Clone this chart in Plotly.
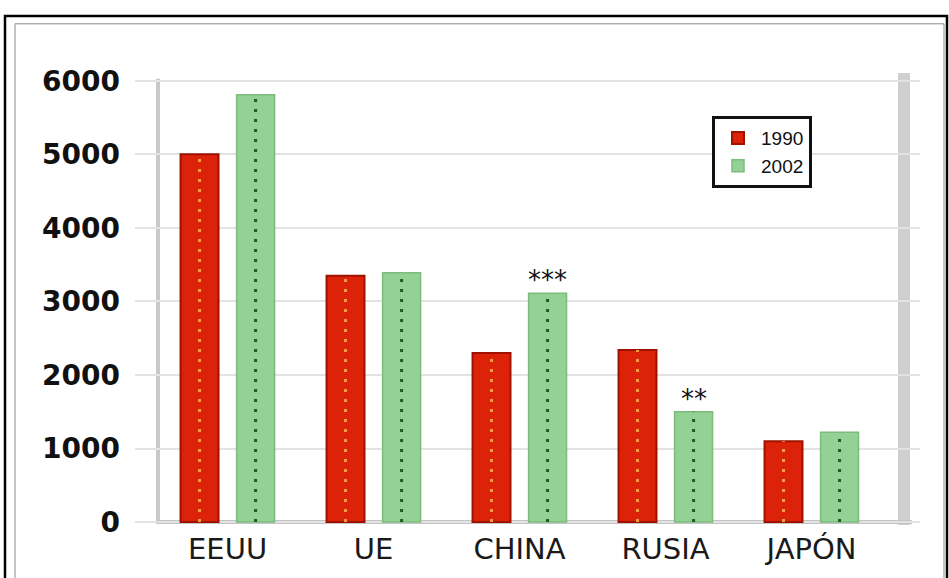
import plotly.graph_objects as go

categories = ["EEUU", "UE", "CHINA", "RUSIA", "JAPÓN"]
values_1990 = [5000, 3350, 2300, 2340, 1100]
values_2002 = [5810, 3390, 3110, 1500, 1220]
notes_2002 = ["", "", "***", "**", ""]
series_names = ["1990", "2002"]
y_ticks = [0, 1000, 2000, 3000, 4000, 5000, 6000]

# layout in pixels (949 x 578)
W, H = 949, 578
L, R, T, B = 135, 920, 70, 535
Y0 = -67
Y1 = 6147
X0, X1 = -0.634, 4.743

def px(xp):
    return (xp - L) / (R - L)

def py(yp):
    return (B - yp) / (B - T)

OFF = 0.192
BW = 0.26
xs = list(range(len(categories)))

fig = go.Figure()
fig.add_trace(go.Bar(
    x=[i - OFF for i in xs], y=values_1990, width=BW, name=series_names[0],
    marker=dict(color="#dc2208", line=dict(color="#a01200", width=2)),
))
fig.add_trace(go.Bar(
    x=[i + OFF for i in xs], y=values_2002, width=BW, name=series_names[1],
    marker=dict(color="#94d194", line=dict(color="#7cbc7c", width=1.5)),
))

# dotted center lines on bars (derived from data)
def center_line(vals, sign):
    lx, ly = [], []
    for i, v in zip(xs, vals):
        lx += [i + sign * OFF, i + sign * OFF, None]
        ly += [0, v, None]
    return lx, ly

lx, ly = center_line(values_1990, -1)
fig.add_trace(go.Scatter(x=lx, y=ly, mode="lines", showlegend=False, hoverinfo="skip",
                         line=dict(color="#f79a45", width=3, dash="3px,7px")))
lx, ly = center_line(values_2002, 1)
fig.add_trace(go.Scatter(x=lx, y=ly, mode="lines", showlegend=False, hoverinfo="skip",
                         line=dict(color="#1d5e1d", width=3, dash="3px,7px")))

# asterisk notes
for i, (v, n) in enumerate(zip(values_2002, notes_2002)):
    if n:
        fig.add_annotation(x=i + OFF, y=v, text=n, showarrow=False, yanchor="bottom",
                           yshift=-4, font=dict(family="DejaVu Sans", size=26, color="#111"))

shapes = []
# outer black frame and inner gray frame
shapes.append(dict(type="rect", xref="paper", yref="paper",
                   x0=px(5), x1=px(947), y0=py(600), y1=py(15),
                   line=dict(color="#000", width=2.5), fillcolor="rgba(0,0,0,0)", layer="above"))
shapes.append(dict(type="rect", xref="paper", yref="paper",
                   x0=px(15), x1=px(944), y0=py(600), y1=py(23),
                   line=dict(color="#8a8a8a", width=1), fillcolor="rgba(0,0,0,0)", layer="above"))
# left gray axis line
shapes.append(dict(type="line", xref="paper", yref="paper",
                   x0=px(158), x1=px(158), y0=py(531), y1=py(79),
                   line=dict(color="#c9c9c9", width=4), layer="below"))
# right gray bar
shapes.append(dict(type="rect", xref="paper", yref="paper",
                   x0=px(898), x1=px(910), y0=py(533), y1=py(73),
                   line=dict(width=0), fillcolor="#cfcfcf", layer="below"))
# baseline
shapes.append(dict(type="line", xref="paper", yref="y",
                   x0=px(156), x1=px(912), y0=0, y1=0,
                   line=dict(color="#c4c4c4", width=4), layer="below"))

fig.update_layout(
    width=W, height=H,
    margin=dict(l=L, r=W - R, t=T, b=H - B, pad=0),
    paper_bgcolor="white", plot_bgcolor="white",
    barmode="overlay",
    shapes=shapes,
    showlegend=True,
    legend=dict(x=px(712), y=py(117), xanchor="left", yanchor="top",
                bordercolor="#111", borderwidth=3, bgcolor="white",
                font=dict(family="Liberation Sans", size=19, color="#111"),
                itemwidth=36),
    xaxis=dict(range=[X0, X1], tickmode="array", tickvals=xs, ticktext=categories,
               showgrid=False, zeroline=False, showline=False, ticks="",
               tickfont=dict(family="DejaVu Sans", size=29, color="#1a1a1a"),
               ticklabelstandoff=2),
    yaxis=dict(range=[Y0, Y1], tickmode="array", tickvals=y_ticks,
               ticktext=[str(t) for t in y_ticks],
               showgrid=True, gridcolor="#e3e3e3", gridwidth=1.5, zeroline=False,
               showline=False, ticks="",
               tickfont=dict(family="DejaVu Sans", size=28, color="#111", weight="bold"),
               ticklabelstandoff=14),
)

fig.write_html("out.html")
